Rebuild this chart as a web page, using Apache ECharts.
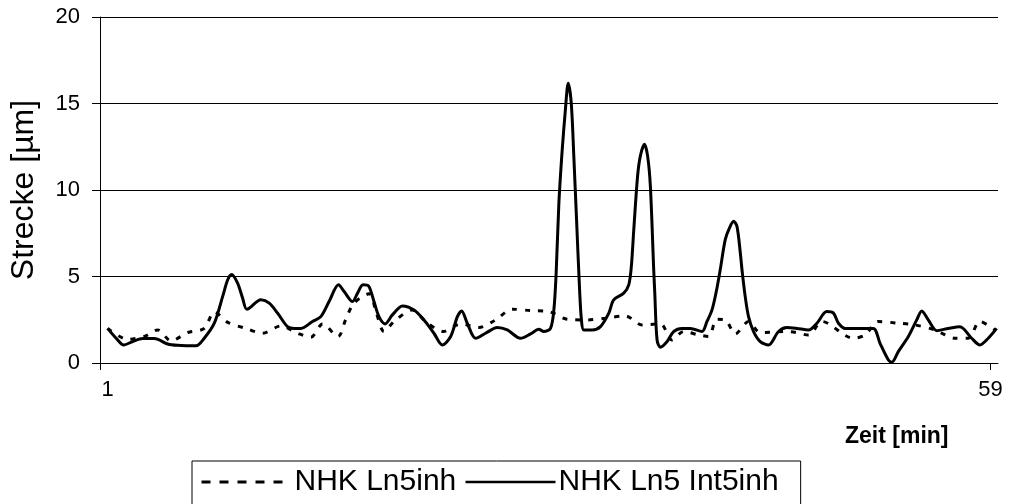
<!DOCTYPE html>
<html>
<head>
<meta charset="utf-8">
<script src="https://cdn.jsdelivr.net/npm/echarts@6/dist/echarts.min.js"></script>
<style>
  html, body { margin: 0; padding: 0; background: #ffffff; }
  #chart { width: 1012px; height: 504px; }
</style>
</head>
<body>
<div id="chart"></div>
<script>
// Time axis (minutes) and measured distance (µm) for both runs
const solidX = [1.0, 1.56, 2.06, 2.65, 3.31, 4.07, 4.95, 5.60, 6.48, 6.81, 7.35, 8.01, 8.56, 8.89, 9.15, 9.54, 9.87, 10.15,
  11.07, 11.62, 12.17, 12.82, 13.26, 13.70, 14.46, 15.01, 15.55, 16.17, 16.54, 17.09, 17.42, 17.78, 18.14, 18.50, 18.83,
  19.23, 19.71, 20.37, 21.13, 21.79, 22.44, 22.99, 23.54, 23.98, 24.26, 24.63, 25.18, 25.83, 26.60, 27.26, 28.13, 28.79,
  29.33, 29.66, 30.10, 30.32, 30.47, 30.65, 30.87, 31.08, 31.26, 31.46, 31.63, 31.81, 32.00, 32.13, 32.29, 32.84, 33.38,
  33.93, 34.25, 34.91, 35.24, 35.41, 35.57, 35.82, 36.00, 36.27, 36.48, 36.66, 36.88, 36.95, 37.10, 37.32, 37.76, 38.19,
  38.74, 39.29, 40.05, 40.38, 40.71, 40.99, 41.25, 41.58, 41.86, 42.13, 42.35, 42.57, 42.68, 42.89, 43.11, 43.44, 43.88,
  44.42, 45.08, 45.63, 46.29, 47.05, 47.60, 48.25, 48.69, 49.02, 49.46, 50.44, 51.31, 51.75, 52.30, 52.52, 52.95, 53.61,
  54.16, 54.49, 54.92, 55.47, 56.23, 57.00, 57.77, 58.31, 58.86, 59.41];
const solidY = [2.0, 1.43, 1.04, 1.24, 1.41, 1.41, 1.10, 1.02, 1.0, 0.99, 1.43, 2.3, 3.85, 4.81, 5.12, 4.62, 3.75, 3.11,
  3.65, 3.46, 2.88, 2.1, 2.0, 2.0, 2.4, 2.68, 3.55, 4.52, 4.13, 3.55, 4.04, 4.52, 4.46, 3.55, 2.68,
  2.26, 2.78, 3.3, 3.07, 2.49, 1.72, 1.04, 1.53, 2.68, 3.01, 2.3, 1.43, 1.72, 2.05, 1.91, 1.43, 1.68,
  1.95, 1.82, 2.0, 3.07, 5.2, 9.26, 12.35, 14.67, 16.17, 15.05, 11.96, 8.29, 4.42, 2.5, 1.91, 1.91, 2.1,
  2.88, 3.65, 4.04, 4.52, 5.58, 7.71, 10.8, 11.96, 12.64, 11.96, 10.22, 5.39, 4.04, 1.33, 0.91, 1.24, 1.82,
  2.0, 2.0, 1.82, 2.4, 3.07, 4.13, 5.39, 7.13, 7.81, 8.19, 7.9, 6.36, 5.39, 3.85, 2.68, 1.82, 1.24,
  1.04, 1.82, 2.05, 2.0, 1.91, 2.3, 2.97, 2.88, 2.3, 2.0, 2.0, 2.0, 1.14, 0.17, 0.05, 0.66, 1.53,
  2.49, 3.01, 2.49, 1.87, 2.0, 2.1, 1.43, 1.04, 1.43, 2.0];

const dashX = [1.0, 2.32, 3.41, 4.29, 5.17, 6.26, 7.35, 8.01, 8.89, 10.09, 11.18, 12.38, 13.48, 14.35, 15.12, 16.14,
  16.65, 17.19, 18.18, 18.66, 19.16, 19.82, 21.02, 21.89, 23.06, 24.19, 25.39, 26.49, 27.59, 28.79, 29.99, 31.20,
  32.51, 33.71, 35.02, 36.12, 37.32, 38.08, 38.84, 39.83, 40.48, 41.03, 41.58, 42.24, 43.11, 43.88, 45.74, 47.05,
  47.93, 50.00, 50.77, 51.64, 52.95, 54.05, 55.36, 56.67, 57.54, 58.31, 59.30];
const dashY = [2.0, 1.37, 1.53, 1.91, 1.28, 1.76, 2.0, 2.95, 2.35, 2.0, 1.72, 2.14, 1.72, 1.49, 2.26, 1.53,
  2.53, 3.46, 4.0, 2.88, 1.82, 2.4, 3.07, 2.4, 1.82, 2.26, 2.05, 2.49, 3.11, 3.03, 2.97, 2.53,
  2.49, 2.59, 2.72, 2.2, 2.26, 1.33, 1.82, 1.62, 1.53, 2.53, 2.49, 1.68, 2.4, 1.76, 1.82, 1.62,
  2.4, 1.43, 1.62, 2.4, 2.3, 2.2, 1.91, 1.43, 1.43, 2.4, 1.91];

const seriesNames = ['NHK Ln5inh', 'NHK Ln5 Int5inh'];
const xLabelValues = [1, 59];
const yAxisTitle = 'Strecke [µm]';
const xAxisTitle = 'Zeit [min]';

const FONT = '"Liberation Sans", Arial, sans-serif';
const pair = (xs, ys) => xs.map((x, i) => [x, ys[i]]);

const chart = echarts.init(document.getElementById('chart'), null, { renderer: 'canvas' });
chart.setOption({
  animation: false,
  backgroundColor: '#ffffff',
  grid: { left: 99, right: 14, top: 17, bottom: 141, containLabel: false },
  xAxis: {
    type: 'value',
    min: 0.5,
    max: 59.5,
    axisLine: { show: true, lineStyle: { color: '#000', width: 1 } },
    axisTick: { show: true, customValues: [0.5, 59], length: 7, lineStyle: { color: '#000' } },
    axisLabel: { customValues: xLabelValues, fontFamily: FONT, fontSize: 22, color: '#000', margin: 16 },
    splitLine: { show: false }
  },
  yAxis: {
    type: 'value',
    min: 0,
    max: 20,
    interval: 5,
    name: yAxisTitle,
    nameLocation: 'middle',
    nameGap: 60,
    nameTextStyle: { fontFamily: FONT, fontSize: 32, color: '#000' },
    axisLine: { show: true, lineStyle: { color: '#000', width: 1 } },
    axisTick: { show: true, length: 8, lineStyle: { color: '#000' } },
    axisLabel: { fontFamily: FONT, fontSize: 22, color: '#000', margin: 20 },
    splitLine: { show: true, lineStyle: { color: '#000', width: 1 } }
  },
  legend: {
    left: 192,
    top: 461,
    orient: 'horizontal',
    borderColor: '#000',
    borderWidth: 1,
    padding: [6, 22, 30, 8],
    itemGap: 8,
    itemWidth: 90,
    itemHeight: 14,
    itemStyle: { opacity: 0 },
    lineStyle: { width: 3 },
    textStyle: { fontFamily: FONT, fontSize: 30, color: '#000', padding: [0, 0, 0, -2] },
    data: [
      { name: seriesNames[0], lineStyle: { type: [9, 9], width: 3 } },
      { name: seriesNames[1], lineStyle: { type: 'solid', width: 2.5 } }
    ]
  },
  graphic: [{
    type: 'text',
    left: 845,
    top: 425,
    style: { text: xAxisTitle, fontFamily: FONT, fontSize: 23, fontWeight: 'bold', fill: '#000' }
  }],
  series: [
    {
      name: seriesNames[0],
      type: 'line',
      data: pair(dashX, dashY),
      symbol: 'none',
      smooth: 0.3,
      lineStyle: { color: '#000', width: 3, type: [5, 8] },
      itemStyle: { color: '#000' },
      z: 2
    },
    {
      name: seriesNames[1],
      type: 'line',
      data: pair(solidX, solidY),
      symbol: 'none',
      smooth: 0.3,
      lineStyle: { color: '#000', width: 3, type: 'solid' },
      itemStyle: { color: '#000' },
      z: 3
    }
  ]
});
</script>
</body>
</html>
